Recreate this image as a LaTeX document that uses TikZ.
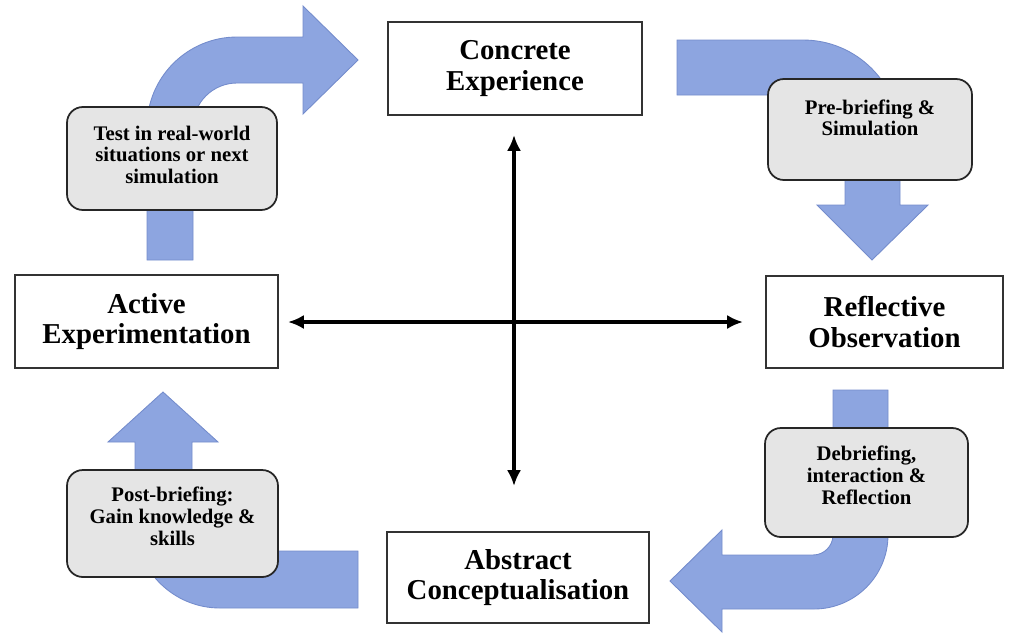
\documentclass[tikz,border=0pt]{standalone}
\usepackage{fontspec}
\setmainfont{Liberation Serif}
\usetikzlibrary{arrows.meta}
\definecolor{flowblue}{RGB}{141,165,224}
\definecolor{flowedge}{RGB}{116,140,204}
\definecolor{notegray}{RGB}{229,229,229}
\begin{document}
\begin{tikzpicture}[x=0.02cm, y=-0.02cm,
    stage/.style={draw=black!80, line width=0.8pt, fill=white, align=center, inner sep=0pt, font=\bfseries\fontsize{16.4}{17.4}\selectfont},
    note/.style={draw=black!85, line width=1pt, fill=notegray, rounded corners=9pt, align=center, inner sep=0pt, font=\bfseries\fontsize{11.8}{12.4}\selectfont},
    flow/.style={fill=flowblue, draw=flowedge, line width=0.5pt},
    axis/.style={line width=2.2pt, {Latex[length=9pt,width=8pt]}-{Latex[length=9pt,width=8pt]}}]
      \useasboundingbox (0,0) rectangle (1017,637);

      % Curved arrows
      \draw[flow] (147,260) -- (147,127) arc[start angle=180, end angle=270, radius=90] -- (303,37) -- (303,6) -- (358,60) -- (303,114) -- (303,83) -- (237,83) arc[start angle=270, end angle=180, radius=44] -- (193,260) -- cycle;
      \draw[flow] (677,40) -- (803,40) arc[start angle=270, end angle=360, radius=97] -- (900,205) -- (928,205) -- (872,260) -- (817,205) -- (845,205) -- (845,137) arc[start angle=0, end angle=-90, radius=42] -- (677,95) -- cycle;
      \draw[flow] (833,390) -- (888,390) -- (888,535) arc[start angle=0, end angle=90, radius=74] -- (722,609) -- (722,632) -- (670,581) -- (722,530) -- (722,555) -- (813,555) arc[start angle=90, end angle=0, radius=20] -- cycle;
      \draw[flow] (358,551) -- (220,551) arc[start angle=90, end angle=180, radius=28] -- (192,442) -- (218,442) -- (163,392) -- (108,442) -- (135,442) -- (135,523) arc[start angle=180, end angle=90, radius=85] -- (358,608) -- cycle;

      % Nodes
      \node[stage, minimum width=5.08cm, minimum height=1.86cm] at (515,68.5) (conc) {Concrete\\Experience};
      \node[stage, minimum width=4.74cm, minimum height=1.84cm] at (884.5,322) (refl) {Reflective\\Observation};
      \node[stage, minimum width=5.24cm, minimum height=1.82cm] at (518,577.5) (abst) {Abstract\\Conceptualisation};
      \node[stage, minimum width=5.26cm, minimum height=1.86cm] at (146.5,321.5) (actv) {Active\\Experimentation};

      \node[note, minimum width=4.2cm, minimum height=2.06cm] at (172,158.5) (test) {Test in real-world\\situations or next\\simulation\\[-8pt]\mbox{}};
      \node[note, minimum width=4.08cm, minimum height=2.02cm] at (870,129.5) (pre) {Pre-briefing \&\\Simulation\\[1pt]\mbox{}};
      \node[note, minimum width=4.06cm, minimum height=2.18cm] at (866.5,482.5) (debr) {Debriefing,\\interaction \&\\Reflection\\[-4pt]\mbox{}};
      \node[note, minimum width=4.22cm, minimum height=2.14cm] at (172.5,523.5) (post) {Post-briefing:\\Gain knowledge \&\\skills\\[-4pt]\mbox{}};

      % Axes
      \coordinate (up) at (514,135);
      \coordinate (down) at (514,486);
      \coordinate (left) at (288,322);
      \coordinate (right) at (743,322);
      \draw[axis] (up) -- (down);
      \draw[axis] (left) -- (right);
    \end{tikzpicture}
\end{document}
